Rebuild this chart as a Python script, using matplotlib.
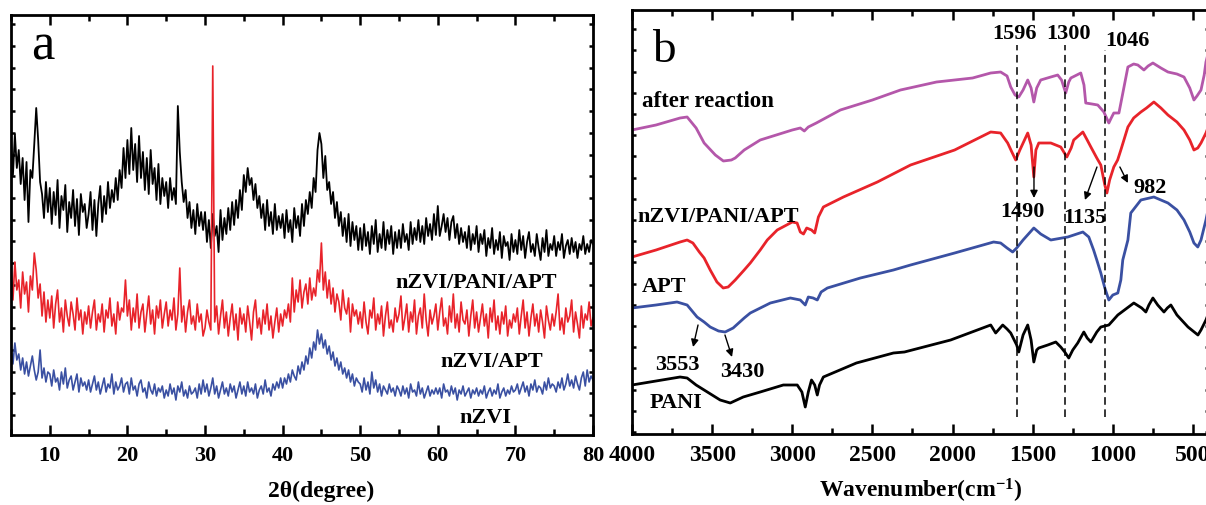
import numpy as np
import matplotlib
matplotlib.use("Agg")
import matplotlib.pyplot as plt
from matplotlib.ticker import MultipleLocator, FixedLocator

plt.rcParams['font.family'] = ['Liberation Serif', 'DejaVu Serif']
plt.rcParams['font.weight'] = 'bold'
plt.rcParams['mathtext.fontset'] = 'custom'
plt.rcParams['mathtext.rm'] = 'Liberation Serif:bold'
plt.rcParams['mathtext.it'] = 'Liberation Serif:bold'
plt.rcParams['mathtext.bf'] = 'Liberation Serif:bold'

# ---- XRD patterns (2theta 5..80, step 0.25), stacked intensities in a.u. ----
two_theta = np.arange(5, 80.001, 0.25)

xrd_pani_apt = [
    300, 265, 306, 272, 290, 256, 282, 240, 278, 218, 270, 262, 296, 332, 300, 258, 246, 222, 258, 228,
    252, 216, 248, 225, 260, 212, 244, 230, 255, 208, 238, 222, 250, 214, 241, 205, 246, 228, 236, 212,
    226, 248, 210, 240, 204, 236, 254, 218, 244, 226, 258, 232, 250, 238, 262, 240, 270, 252, 292, 262,
    300, 266, 312, 270, 296, 258, 304, 262, 288, 250, 282, 246, 290, 256, 272, 240, 276, 236, 262, 244,
    258, 232, 262, 240, 252, 236, 334, 288, 258, 238, 250, 222, 238, 212, 230, 206, 236, 214, 228, 210,
    228, 198, 220, 192, 226, 204, 214, 188, 230, 200, 222, 206, 232, 210, 238, 215, 240, 222, 250, 230,
    265, 248, 272, 255, 262, 240, 256, 232, 244, 222, 236, 210, 240, 214, 228, 206, 236, 210, 224, 212,
    226, 202, 230, 208, 220, 198, 232, 212, 224, 204, 236, 214, 240, 226, 248, 232, 262, 248, 290, 307,
    296, 262, 284, 250, 258, 236, 248, 222, 238, 214, 228, 204, 222, 198, 226, 194, 218, 200, 214, 190,
    212, 190, 216, 194, 208, 186, 214, 196, 220, 188, 206, 192, 218, 190, 210, 196, 214, 186, 208, 192,
    210, 192, 216, 198, 206, 190, 218, 196, 212, 200, 220, 198, 214, 196, 222, 204, 216, 200, 226, 205,
    234, 204, 214, 226, 208, 222, 200, 218, 224, 202, 216, 196, 212, 198, 208, 192, 214, 190, 206, 196,
    214, 188, 206, 196, 210, 184, 202, 192, 212, 186, 200, 190, 208, 182, 204, 194, 198, 180, 206, 188,
    200, 186, 210, 190, 204, 182, 198, 208, 188, 196, 184, 206, 192, 180, 202, 188, 210, 184, 196, 190,
    204, 184, 198, 190, 206, 182, 194, 200, 186, 202, 188, 198, 182, 196, 190, 204, 186, 196, 188, 200,
    196]

xrd_apt = [
    172, 140, 178, 150, 160, 132, 168, 146, 158, 128, 164, 150, 187, 170, 142, 156, 124, 148, 118, 140,
    122, 144, 112, 136, 150, 118, 132, 108, 140, 124, 114, 138, 126, 110, 142, 120, 130, 106, 128, 116,
    134, 112, 128, 140, 110, 126, 118, 136, 108, 130, 122, 142, 114, 126, 106, 138, 120, 132, 128, 160,
    124, 140, 110, 132, 118, 146, 112, 128, 136, 108, 126, 144, 116, 130, 106, 134, 122, 140, 112, 126,
    138, 114, 130, 120, 142, 110, 126, 172, 118, 134, 108, 128, 140, 116, 124, 110, 136, 118, 126, 104,
    112, 130, 118, 110, 374, 118, 134, 106, 124, 140, 112, 128, 104, 122, 136, 110, 126, 100, 132, 116,
    126, 108, 134, 118, 100, 128, 140, 112, 122, 106, 130, 116, 136, 110, 124, 102, 118, 132, 108, 126,
    114, 130, 122, 136, 118, 162, 128, 150, 138, 160, 132, 148, 156, 136, 162, 140, 152, 144, 170, 158,
    197, 150, 168, 142, 160, 136, 152, 128, 146, 138, 120, 150, 132, 126, 142, 108, 136, 124, 130, 116,
    128, 112, 138, 118, 106, 130, 122, 142, 110, 126, 116, 134, 104, 124, 138, 112, 120, 108, 132, 118,
    126, 144, 110, 122, 136, 108, 128, 118, 140, 106, 124, 132, 112, 146, 120, 104, 130, 116, 124, 136,
    110, 128, 142, 114, 122, 106, 134, 118, 146, 112, 126, 108, 138, 120, 116, 130, 104, 124, 140, 112,
    128, 108, 122, 136, 114, 126, 102, 132, 118, 140, 110, 124, 106, 128, 116, 134, 104, 120, 112, 126,
    118, 132, 106, 124, 140, 112, 128, 104, 122, 136, 114, 126, 108, 130, 118, 102, 134, 120, 110, 126,
    114, 128, 146, 110, 122, 106, 132, 118, 124, 140, 108, 128, 116, 102, 134, 112, 126, 120, 138, 114,
    122]

xrd_nzvi = [
    92, 76, 97, 80, 86, 70, 82, 66, 78, 64, 74, 84, 70, 60, 68, 90, 62, 72, 58, 68,
    66, 54, 70, 58, 62, 50, 68, 56, 72, 52, 60, 64, 50, 58, 66, 48, 62, 54, 58, 50,
    60, 48, 56, 64, 50, 58, 46, 54, 62, 48, 56, 52, 66, 46, 58, 50, 54, 62, 48, 56,
    58, 46, 62, 50, 54, 44, 56, 60, 48, 52, 42, 58, 50, 46, 56, 44, 52, 48, 54, 42,
    50, 44, 56, 46, 52, 40, 54, 48, 58, 44, 50, 42, 54, 46, 48, 52, 42, 56, 46, 60,
    48, 56, 44, 52, 62, 46, 54, 42, 50, 58, 46, 52, 44, 56, 48, 54, 42, 50, 58, 46,
    54, 44, 58, 48, 52, 46, 56, 42, 50, 54, 46, 60, 48, 52, 44, 56, 50, 58, 52, 62,
    52, 62, 56, 66, 58, 70, 64, 60, 74, 66, 78, 70, 84, 76, 92, 82, 98, 90, 110, 96,
    106, 92, 100, 86, 94, 80, 88, 74, 82, 70, 78, 66, 72, 62, 70, 58, 66, 54, 62, 58,
    56, 48, 62, 50, 58, 46, 68, 52, 60, 48, 56, 44, 54, 50, 46, 56, 48, 52, 44, 54,
    50, 44, 54, 46, 52, 42, 56, 48, 50, 44, 58, 46, 52, 42, 48, 54, 44, 50, 46, 52,
    46, 52, 42, 56, 48, 50, 44, 54, 46, 52, 40, 50, 46, 54, 44, 48, 52, 42, 50, 46,
    52, 44, 50, 46, 54, 42, 48, 52, 44, 50, 46, 56, 42, 48, 52, 44, 50, 46, 54, 48,
    50, 56, 46, 52, 58, 48, 54, 44, 56, 50, 60, 48, 54, 52, 46, 58, 50, 62, 52, 56,
    54, 48, 58, 52, 62, 50, 56, 66, 54, 60, 52, 64, 56, 50, 62, 68, 54, 70, 58, 64,
    60]

# ---- FTIR spectra, stacked transmittance (a.u.) ----
wn_after = [4000, 3850, 3700, 3656, 3600, 3550, 3480, 3430, 3380, 3356, 3300, 3200, 3100, 3000,
            2950, 2925, 2900, 2850, 2700, 2500, 2325, 2100, 1875, 1762, 1700, 1660, 1637, 1610,
            1587, 1560, 1531, 1510, 1493, 1475, 1450, 1387, 1344, 1320, 1294, 1275, 1262, 1200,
            1180, 1169, 1130, 1094, 1056, 1025, 1010, 994, 962, 940, 906, 870, 844, 806, 780,
            750, 700, 656, 600, 556, 520, 494, 475, 450, 430, 419, 400]
y_after = [130, 125, 118, 117, 128, 143, 155, 161, 160, 158, 150, 140, 135, 130,
           128, 131, 127, 123, 110, 100, 90, 82, 78, 73, 72, 76, 87, 95,
           97, 90, 80, 88, 102, 88, 80, 77, 75, 80, 93, 82, 78, 73,
           85, 103, 104, 105, 112, 123, 118, 113, 113, 95, 67, 64, 65, 70, 66,
           63, 68, 72, 74, 77, 88, 100, 96, 90, 75, 62, 50]

wn_composite = [4000, 3850, 3700, 3656, 3620, 3580, 3550, 3512, 3470, 3431, 3400, 3356, 3300,
                3262, 3200, 3156, 3094, 3000, 2970, 2950, 2930, 2910, 2880, 2860, 2837, 2806,
                2681, 2469, 2262, 1987, 1762, 1700, 1656, 1630, 1606, 1580, 1531, 1510, 1493,
                1480, 1462, 1387, 1325, 1287, 1260, 1244, 1187, 1160, 1137, 1100, 1075, 1050,
                1037, 1020, 994, 970, 950, 906, 870, 825, 790, 744, 700, 656, 600, 556, 520,
                494, 470, 450, 419, 400]
y_composite = [257, 250, 242, 240, 243, 252, 258, 270, 282, 288, 287, 280, 270,
               263, 250, 240, 230, 222, 223, 232, 234, 228, 230, 233, 217, 207,
               197, 182, 165, 150, 132, 133, 143, 152, 160, 150, 133, 145, 177,
               150, 143, 143, 147, 157, 148, 140, 132, 140, 147, 158, 165, 185,
               193, 180, 167, 160, 150, 127, 118, 112, 108, 102, 108, 115, 122, 130, 140,
               150, 148, 143, 133, 125]

wn_apt = [4000, 3850, 3719, 3656, 3594, 3550, 3512, 3460, 3419, 3369, 3300, 3262, 3137, 3012,
          2950, 2919, 2900, 2870, 2844, 2820, 2781, 2575, 2369, 2262, 1987, 1744, 1700, 1660,
          1625, 1600, 1560, 1493, 1450, 1387, 1281, 1187, 1150, 1120, 1100, 1075, 1050, 1025,
          1000, 969, 950, 938, 906, 888, 825, 744, 700, 656, 600, 556, 520, 494, 470, 450,
          419, 400]
y_apt = [308, 305, 302, 305, 317, 322, 327, 331, 332, 328, 318, 313, 303, 298,
         300, 305, 297, 298, 300, 292, 288, 278, 270, 265, 253, 242, 243, 248,
         252, 248, 240, 228, 234, 240, 237, 232, 237, 250, 260, 273, 288, 300,
         295, 293, 280, 260, 240, 213, 200, 197, 200, 203, 210, 220, 232, 243, 247, 240,
         220, 205]

wn_pani = [4000, 3850, 3700, 3656, 3600, 3500, 3450, 3387, 3306, 3200, 3056, 2969, 2940, 2919,
           2900, 2880, 2860, 2844, 2830, 2806, 2600, 2369, 2300, 2012, 1762, 1731, 1687, 1660,
           1637, 1600, 1587, 1560, 1531, 1510, 1493, 1475, 1462, 1406, 1356, 1325, 1300, 1275,
           1250, 1219, 1181, 1160, 1137, 1100, 1075, 1025, 969, 869, 820, 794, 775, 750, 720,
           681, 660, 638, 600, 531, 469, 450, 419, 400]
y_pani = [385, 381, 377, 378, 385, 395, 400, 403, 397, 392, 385, 385, 392, 407,
          392, 380, 385, 395, 385, 377, 363, 353, 352, 340, 325, 333, 325, 329,
          333, 345, 352, 335, 325, 340, 362, 350, 348, 345, 342, 347, 352, 358,
          350, 343, 332, 338, 342, 332, 327, 325, 315, 303, 308, 312, 305, 298, 305,
          312, 308, 305, 315, 327, 335, 330, 320, 312]

marked_peaks = [1596, 1300, 1046]

C_BLACK = '#000000'
C_RED = '#E8232A'
C_BLUE = '#3A50A2'
C_PURPLE = '#B457AA'

fig = plt.figure(figsize=(12.06, 5.05), dpi=100)
ax1 = fig.add_axes([11 / 1206, 70 / 505, 582 / 1206, 420 / 505])
ax2 = fig.add_axes([632 / 1206, 71 / 505, 577 / 1206, 424 / 505])


def style_axes(ax, fs):
    for sp in ax.spines.values():
        sp.set_linewidth(2.0)
    ax.tick_params(which='both', direction='in', top=True, right=True, width=1.8,
                   labelsize=fs, pad=8)
    ax.tick_params(which='major', length=7)
    ax.tick_params(which='minor', length=4)
    ax.tick_params(axis='y', which='both', length=3, labelleft=False)
    for lab in ax.get_xticklabels():
        lab.set_fontweight('bold')


# ---- panel a: XRD ----
ax1.plot(two_theta, xrd_pani_apt, color=C_BLACK, lw=1.3)
ax1.plot(two_theta, xrd_nzvi, color=C_BLUE, lw=1.2)
ax1.plot(two_theta, xrd_apt, color=C_RED, lw=1.2)
ax1.set_xlim(5, 80)
ax1.set_ylim(5, 425)
ax1.xaxis.set_major_locator(FixedLocator([10, 20, 30, 40, 50, 60, 70, 80]))
ax1.xaxis.set_minor_locator(MultipleLocator(5))
ax1.yaxis.set_major_locator(FixedLocator(np.arange(25, 425, 21.7)))
style_axes(ax1, 16)
ax1.set_xlabel('2θ(degree)', fontsize=17, fontweight='bold')
ax1.xaxis.set_label_coords(0.533, -0.108)
ax1.text(9.1, 381, 'a', fontsize=38, fontweight='normal', ha='center', va='baseline')
ax1.text(65.0, 152, 'nZVI/PANI/APT', fontsize=16, fontweight='bold', ha='center', va='baseline')
ax1.text(67.0, 73, 'nZVI/APT', fontsize=16, fontweight='bold', ha='center', va='baseline')
ax1.text(66.1, 17, 'nZVI', fontsize=16, fontweight='bold', ha='center', va='baseline')

# ---- panel b: FTIR ----
for wn, yy, col in [(wn_pani, y_pani, C_BLACK), (wn_apt, y_apt, C_BLUE),
                    (wn_composite, y_composite, C_RED), (wn_after, y_after, C_PURPLE)]:
    ax2.plot(wn, 440 - np.array(yy), color=col, lw=2.0)

ax2.set_xlim(4000, 400)
ax2.set_ylim(6, 430)
ax2.xaxis.set_major_locator(FixedLocator([4000, 3500, 3000, 2500, 2000, 1500, 1000, 500]))
ax2.xaxis.set_minor_locator(MultipleLocator(250))
ax2.yaxis.set_major_locator(FixedLocator(np.arange(8, 430, 21.2)))
style_axes(ax2, 17)
ax2.set_xlabel('Wavenumber(cm$^{-1}$)', fontsize=17, fontweight='bold')
ax2.xaxis.set_label_coords(0.5, -0.1)

for pk, top in zip(marked_peaks, [395, 395, 390]):
    ax2.plot([pk, pk], [23, top], color='k', lw=1.1, ls=(0, (5, 3)))

ax2.text(3800, 378, 'b', fontsize=34, fontweight='normal', ha='center', va='baseline')
ax2.text(3938, 333, 'after reaction', fontsize=16.5, fontweight='bold', ha='left', va='baseline')
ax2.text(3969, 218, 'nZVI/PANI/APT', fontsize=16, fontweight='bold', ha='left', va='baseline')
ax2.text(3938, 148, 'APT', fontsize=16, fontweight='bold', ha='left', va='baseline')
ax2.text(3888, 32, 'PANI', fontsize=16, fontweight='bold', ha='left', va='baseline')

for txt, x, y in [('1596', 1614, 401), ('1300', 1274, 401), ('1046', 909, 394)]:
    ax2.text(x, y, txt, fontsize=16, fontweight='bold', ha='center', va='baseline')

arrow = dict(arrowstyle='-|>', lw=1.0, color='k', mutation_scale=11, shrinkA=0, shrinkB=0)
for txt, tx, ty, tail, head in [
        ('1490', 1567, 223, (1492, 273), (1492, 242)),
        ('1135', 1174, 217, (1099, 273), (1174, 240)),
        ('982', 769, 247, (956, 273), (906, 257)),
        ('3553', 3716, 70, (3588, 115), (3619, 93)),
        ('3430', 3311, 63, (3420, 105), (3376, 83))]:
    ax2.text(tx, ty, txt, fontsize=16, fontweight='bold', ha='center', va='baseline')
    ax2.annotate('', xy=head, xytext=tail, arrowprops=arrow)

fig.savefig('out.png', dpi=100)
